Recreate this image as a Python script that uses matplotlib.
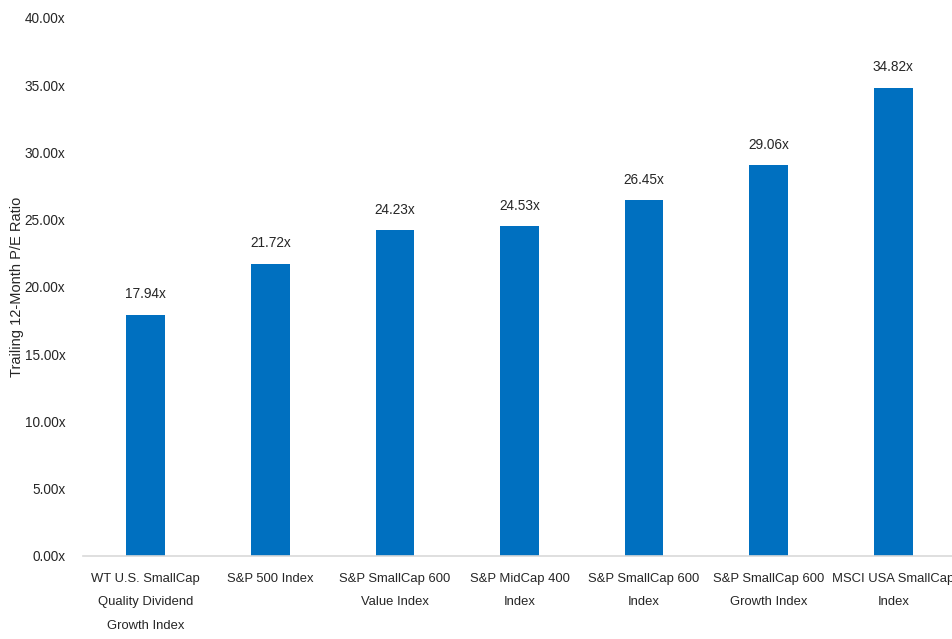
import matplotlib.pyplot as plt

names = ['WT U.S. SmallCap\nQuality Dividend\nGrowth Index', 'S&P 500 Index',
         'S&P SmallCap 600\nValue Index', 'S&P MidCap 400\nIndex',
         'S&P SmallCap 600\nIndex', 'S&P SmallCap 600\nGrowth Index',
         'MSCI USA SmallCap\nIndex']
pe = [17.94, 21.72, 24.23, 24.53, 26.45, 29.06, 34.82]
yticks = [0, 5, 10, 15, 20, 25, 30, 35, 40]

plt.rcParams['font.family'] = ['Liberation Sans', 'DejaVu Sans']
txt = '#262626'

fig = plt.figure(figsize=(9.53, 6.39), dpi=100)
ax = fig.add_axes([0.0876, 0.130, 0.915, 0.842])

x = range(len(pe))
ax.bar(x, pe, width=0.31, color='#0070C0', zorder=2)
for i, v in zip(x, pe):
    ax.text(i, v + 1.0, f'{v:.2f}x', ha='center', va='bottom', fontsize=9.8, color=txt)

ax.set_xlim(-0.5, len(pe) - 0.5)
ax.set_ylim(0, 40)
ax.set_yticks(yticks)
ax.set_yticklabels([f'{t:.2f}x' for t in yticks], fontsize=9.8, color=txt)
ax.set_xticks(list(x))
ax.set_xticklabels(names, fontsize=9.4, color=txt, linespacing=2.3)
ax.tick_params(axis='both', length=0)
ax.tick_params(axis='y', pad=13)
ax.tick_params(axis='x', pad=12)
for s in ['top', 'right', 'left']:
    ax.spines[s].set_visible(False)
ax.spines['bottom'].set_color('#D9D9D9')
ax.spines['bottom'].set_linewidth(1.2)

ax.set_ylabel('Trailing 12-Month P/E Ratio', fontsize=10.5, color=txt)
ax.yaxis.set_label_coords(-0.068, 0.5)

fig.savefig('out.png', dpi=100)
